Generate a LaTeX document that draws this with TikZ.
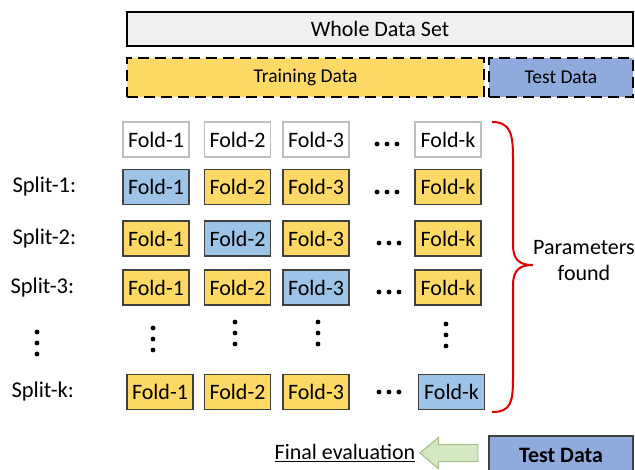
\documentclass[tikz,border=0pt]{standalone}
\usepackage{fontspec}
\setmainfont{Carlito}
\usetikzlibrary{shapes.arrows}
\definecolor{ylw}{HTML}{FFD966}
\definecolor{blu}{HTML}{9DC3E6}
\definecolor{tblu}{HTML}{8FAADC}
\definecolor{foldline}{HTML}{404040}
\definecolor{wline}{HTML}{BFBFBF}
\definecolor{arrfill}{HTML}{D5E8C4}
\definecolor{arrline}{HTML}{A9C38F}
\definecolor{bracered}{HTML}{E00000}
\begin{document}
\begin{tikzpicture}[x=1pt,y=-1pt,
  bigtxt/.style={font=\fontsize{22}{26}\selectfont},
  foldbox/.style={draw=foldline, line width=1.2pt, minimum width=66, minimum height=35, inner sep=0pt, bigtxt},
  ybox/.style={foldbox, fill=ylw},
  bbox/.style={foldbox, fill=blu},
  wbox/.style={foldbox, draw=wline, fill=white},
  dashbox/.style={draw=black, line width=2.8pt, dash pattern=on 11pt off 6pt, minimum height=39, inner sep=0pt, font=\fontsize{19.5}{22}\selectfont},
  splitlbl/.style={anchor=west, font=\fontsize{22.5}{26}\selectfont},
  dot/.style={fill=black}]
\useasboundingbox (0,0) rectangle (635,470);
\fill[white] (0,0) rectangle (635,470);

% top bars
\node[draw=black, line width=2.2pt, fill=black!6, minimum width=506, minimum height=34, inner sep=0pt, bigtxt] (whole) at (380,29) {Whole Data Set};
\node[dashbox, fill=ylw, minimum width=357] (train) at (305.5,77.5) {Training Data};
\node[dashbox, fill=tblu, minimum width=144] (test) at (561,77.5) {Test Data};

% header row
\node[wbox] (h1) at (156,139.5) {Fold-1};
\node[wbox] (h2) at (237.5,139.5) {Fold-2};
\node[wbox] (h3) at (316,139.5) {Fold-3};
\node[wbox] (hk) at (448,139.5) {Fold-k};

% split 1
\node[splitlbl] (s1) at (9,187) {Split-1:};
\node[bbox] (a1) at (156,187) {Fold-1};
\node[ybox] (a2) at (237.5,187) {Fold-2};
\node[ybox] (a3) at (316,187) {Fold-3};
\node[ybox] (ak) at (448,187) {Fold-k};

% split 2
\node[splitlbl] (s2) at (9,238.5) {Split-2:};
\node[ybox] (b1) at (156,238.5) {Fold-1};
\node[bbox] (b2) at (237.5,238.5) {Fold-2};
\node[ybox] (b3) at (316,238.5) {Fold-3};
\node[ybox] (bk) at (448,238.5) {Fold-k};

% split 3
\node[splitlbl] (s3) at (7,287.5) {Split-3:};
\node[ybox] (c1) at (156,287.5) {Fold-1};
\node[ybox] (c2) at (237.5,287.5) {Fold-2};
\node[bbox] (c3) at (316,287.5) {Fold-3};
\node[ybox] (ck) at (448,287.5) {Fold-k};

% split k
\node[splitlbl] (sk) at (8,392) {Split-k:};
\node[ybox] (d1) at (160,392) {Fold-1};
\node[ybox] (d2) at (237.5,392) {Fold-2};
\node[ybox] (d3) at (316,392) {Fold-3};
\node[bbox] (dk) at (451.5,392) {Fold-k};

% horizontal ellipses
\foreach \yy/\xx in {144/377, 192/377, 243/379, 292/379, 392/379}{
  \foreach \i in {0,10,20}{\fill[dot] (\xx+\i,\yy) circle (2.4);}
}
% vertical ellipses
\foreach \xx/\yy in {37/332, 153/328, 235/322, 318/322, 446/324}{
  \foreach \i in {0,11,22}{\fill[dot] (\xx,\yy+\i) circle (2.4);}
}

% brace
\draw[bracered, line width=2pt] (492,122) .. controls (511,122) and (513,135) .. (513,158)
  -- (513,245) .. controls (513,262) and (522,265) .. (533,265)
  .. controls (522,265) and (513,268) .. (513,285)
  -- (513,378) .. controls (513,402) and (511,412) .. (492,412);
\node[bigtxt, align=center] (params) at (584,261) {Parameters\\found};

% bottom
\node[draw=foldline, line width=1.2pt, fill=tblu, minimum width=144, minimum height=38, inner sep=0pt, font=\fontsize{22}{26}\selectfont\bfseries] (ftest) at (561,455) {Test Data};
\node[single arrow, shape border rotate=180, draw=arrline, line width=1.2pt, fill=arrfill,
  minimum height=58, minimum width=30, inner sep=8pt, single arrow head extend=7pt, single arrow tip angle=80] (arr) at (454,453) {};
\node[bigtxt, anchor=base] (final) at (345,460) {\underline{Final evaluation}};
\end{tikzpicture}
\end{document}
